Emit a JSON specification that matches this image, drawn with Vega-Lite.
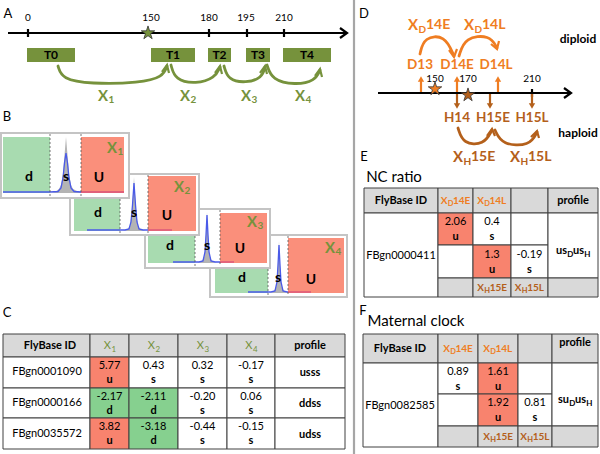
{
"$schema": "https://vega.github.io/schema/vega-lite/v6.json",
"width": 600, "height": 454, "padding": 0, "autosize": {"type": "none"},
"background": "white",
"config": {"view": {"stroke": null}, "font": "Lato", "text": {"font": "Lato"}},
"datasets": {
"frames": [
{"x":210,"x2":347,"y":235,"y2":297,"cat":"blank"},
{"x":145,"x2":270,"y":209,"y2":268,"cat":"blank"},
{"x":70,"x2":199,"y":174,"y2":235,"cat":"blank"},
{"x":1,"x2":129,"y":133,"y2":198,"cat":"blank"}
],
"regions": [
{"x":27,"x2":75,"y":48,"y2":62,"cat":"interval"},
{"x":151,"x2":195,"y":48,"y2":62,"cat":"interval"},
{"x":208,"x2":231,"y":48,"y2":62,"cat":"interval"},
{"x":246,"x2":270,"y":48,"y2":62,"cat":"interval"},
{"x":283,"x2":331,"y":48,"y2":62,"cat":"interval"},
{"x":3,"x2":50,"y":137,"y2":193,"cat":"downRegion"},
{"x":81,"x2":124,"y":137,"y2":193,"cat":"upRegion"},
{"x":74,"x2":120,"y":199,"y2":231,"cat":"downRegion"},
{"x":148,"x2":196,"y":176,"y2":231,"cat":"upRegion"},
{"x":148,"x2":195,"y":236,"y2":263,"cat":"downRegion"},
{"x":220,"x2":267,"y":213,"y2":263,"cat":"upRegion"},
{"x":215,"x2":268,"y":269,"y2":293,"cat":"downRegion"},
{"x":288,"x2":344,"y":238,"y2":293,"cat":"upRegion"}
],
"cells": [
{"x":3,"x2":90,"y":334,"y2":357,"cat":"header"},
{"x":90,"x2":129,"y":334,"y2":357,"cat":"header"},
{"x":129,"x2":178,"y":334,"y2":357,"cat":"header"},
{"x":178,"x2":227,"y":334,"y2":357,"cat":"header"},
{"x":227,"x2":275,"y":334,"y2":357,"cat":"header"},
{"x":275,"x2":345,"y":334,"y2":357,"cat":"header"},
{"x":3,"x2":90,"y":357,"y2":388,"cat":"blank"},
{"x":90,"x2":129,"y":357,"y2":388,"cat":"up"},
{"x":129,"x2":178,"y":357,"y2":388,"cat":"blank"},
{"x":178,"x2":227,"y":357,"y2":388,"cat":"blank"},
{"x":227,"x2":275,"y":357,"y2":388,"cat":"blank"},
{"x":275,"x2":345,"y":357,"y2":388,"cat":"blank"},
{"x":3,"x2":90,"y":388,"y2":418,"cat":"blank"},
{"x":90,"x2":129,"y":388,"y2":418,"cat":"down"},
{"x":129,"x2":178,"y":388,"y2":418,"cat":"down"},
{"x":178,"x2":227,"y":388,"y2":418,"cat":"blank"},
{"x":227,"x2":275,"y":388,"y2":418,"cat":"blank"},
{"x":275,"x2":345,"y":388,"y2":418,"cat":"blank"},
{"x":3,"x2":90,"y":418,"y2":449,"cat":"blank"},
{"x":90,"x2":129,"y":418,"y2":449,"cat":"up"},
{"x":129,"x2":178,"y":418,"y2":449,"cat":"down"},
{"x":178,"x2":227,"y":418,"y2":449,"cat":"blank"},
{"x":227,"x2":275,"y":418,"y2":449,"cat":"blank"},
{"x":275,"x2":345,"y":418,"y2":449,"cat":"blank"},
{"x":364,"x2":438,"y":188,"y2":213,"cat":"header"},
{"x":438,"x2":473,"y":188,"y2":213,"cat":"header"},
{"x":473,"x2":511,"y":188,"y2":213,"cat":"header"},
{"x":511,"x2":548,"y":188,"y2":213,"cat":"header"},
{"x":548,"x2":598,"y":188,"y2":213,"cat":"header"},
{"x":364,"x2":438,"y":213,"y2":297,"cat":"blank"},
{"x":438,"x2":473,"y":213,"y2":245,"cat":"up"},
{"x":438,"x2":473,"y":245,"y2":278,"cat":"blank"},
{"x":438,"x2":473,"y":278,"y2":297,"cat":"header"},
{"x":473,"x2":511,"y":213,"y2":245,"cat":"blank"},
{"x":473,"x2":511,"y":245,"y2":278,"cat":"up"},
{"x":473,"x2":511,"y":278,"y2":297,"cat":"header"},
{"x":511,"x2":548,"y":213,"y2":245,"cat":"blank"},
{"x":511,"x2":548,"y":245,"y2":278,"cat":"blank"},
{"x":511,"x2":548,"y":278,"y2":297,"cat":"header"},
{"x":548,"x2":598,"y":213,"y2":278,"cat":"blank"},
{"x":548,"x2":598,"y":278,"y2":297,"cat":"header"},
{"x":363,"x2":438,"y":334,"y2":363,"cat":"header"},
{"x":438,"x2":478,"y":334,"y2":363,"cat":"header"},
{"x":478,"x2":518,"y":334,"y2":363,"cat":"header"},
{"x":518,"x2":552,"y":334,"y2":363,"cat":"header"},
{"x":552,"x2":598,"y":334,"y2":363,"cat":"header"},
{"x":363,"x2":438,"y":363,"y2":447,"cat":"blank"},
{"x":438,"x2":478,"y":363,"y2":394,"cat":"blank"},
{"x":438,"x2":478,"y":394,"y2":426,"cat":"blank"},
{"x":438,"x2":478,"y":426,"y2":447,"cat":"header"},
{"x":478,"x2":518,"y":363,"y2":394,"cat":"up"},
{"x":478,"x2":518,"y":394,"y2":426,"cat":"up"},
{"x":478,"x2":518,"y":426,"y2":447,"cat":"header"},
{"x":518,"x2":552,"y":363,"y2":394,"cat":"blank"},
{"x":518,"x2":552,"y":394,"y2":426,"cat":"blank"},
{"x":518,"x2":552,"y":426,"y2":447,"cat":"header"},
{"x":552,"x2":598,"y":363,"y2":426,"cat":"blank"},
{"x":552,"x2":598,"y":426,"y2":447,"cat":"header"}
],
"counts": [
{"id":"p1","x":50,"y":193,"base":193,"cat":"count"},{"id":"p1","x":55,"y":192,"base":193,"cat":"count"},{"id":"p1","x":59,"y":189,"base":193,"cat":"count"},{"id":"p1","x":61,"y":185,"base":193,"cat":"count"},{"id":"p1","x":63,"y":174,"base":193,"cat":"count"},{"id":"p1","x":64.5,"y":155,"base":193,"cat":"count"},{"id":"p1","x":66,"y":137,"base":193,"cat":"count"},{"id":"p1","x":67.5,"y":155,"base":193,"cat":"count"},{"id":"p1","x":69,"y":174,"base":193,"cat":"count"},{"id":"p1","x":71,"y":185,"base":193,"cat":"count"},{"id":"p1","x":73,"y":189,"base":193,"cat":"count"},{"id":"p1","x":77,"y":191,"base":193,"cat":"count"},{"id":"p1","x":81,"y":192,"base":193,"cat":"count"},
{"id":"p2","x":122,"y":231,"base":231,"cat":"count"},{"id":"p2","x":127,"y":230,"base":231,"cat":"count"},{"id":"p2","x":130,"y":226,"base":231,"cat":"count"},{"id":"p2","x":132,"y":211,"base":231,"cat":"count"},{"id":"p2","x":134,"y":177,"base":231,"cat":"count"},{"id":"p2","x":136,"y":211,"base":231,"cat":"count"},{"id":"p2","x":138,"y":226,"base":231,"cat":"count"},{"id":"p2","x":141,"y":230,"base":231,"cat":"count"},{"id":"p2","x":146,"y":231,"base":231,"cat":"count"},
{"id":"p3","x":197,"y":263,"base":263,"cat":"count"},{"id":"p3","x":201,"y":262,"base":263,"cat":"count"},{"id":"p3","x":204,"y":258,"base":263,"cat":"count"},{"id":"p3","x":205.5,"y":245,"base":263,"cat":"count"},{"id":"p3","x":207,"y":212,"base":263,"cat":"count"},{"id":"p3","x":208.5,"y":245,"base":263,"cat":"count"},{"id":"p3","x":210,"y":258,"base":263,"cat":"count"},{"id":"p3","x":213,"y":262,"base":263,"cat":"count"},{"id":"p3","x":217,"y":263,"base":263,"cat":"count"},
{"id":"p4","x":269,"y":293,"base":293,"cat":"count"},{"id":"p4","x":273,"y":292,"base":293,"cat":"count"},{"id":"p4","x":276,"y":288,"base":293,"cat":"count"},{"id":"p4","x":277.5,"y":275,"base":293,"cat":"count"},{"id":"p4","x":279,"y":241,"base":293,"cat":"count"},{"id":"p4","x":280.5,"y":275,"base":293,"cat":"count"},{"id":"p4","x":282,"y":288,"base":293,"cat":"count"},{"id":"p4","x":285,"y":292,"base":293,"cat":"count"},{"id":"p4","x":289,"y":293,"base":293,"cat":"count"}
],
"dens": [
{"id":"b1","ord":1,"x":3,"y":192,"cat":"density"},{"id":"b1","ord":2,"x":50,"y":192,"cat":"density"},{"id":"b1","ord":3,"x":58,"y":191.5,"cat":"density"},{"id":"b1","ord":4,"x":61,"y":188,"cat":"density"},{"id":"b1","ord":5,"x":63,"y":178,"cat":"density"},{"id":"b1","ord":6,"x":64.5,"y":163,"cat":"density"},{"id":"b1","ord":7,"x":66,"y":153,"cat":"density"},{"id":"b1","ord":8,"x":67.5,"y":163,"cat":"density"},{"id":"b1","ord":9,"x":69,"y":178,"cat":"density"},{"id":"b1","ord":10,"x":71,"y":188,"cat":"density"},{"id":"b1","ord":11,"x":74,"y":191.5,"cat":"density"},{"id":"b1","ord":12,"x":81,"y":192,"cat":"density"},
{"id":"r1","ord":1,"x":81,"y":192,"cat":"upTail"},{"id":"r1","ord":2,"x":124,"y":192,"cat":"upTail"},
{"id":"b2","ord":1,"x":87,"y":230,"cat":"density"},{"id":"b2","ord":2,"x":125,"y":230,"cat":"density"},{"id":"b2","ord":3,"x":129,"y":229,"cat":"density"},{"id":"b2","ord":4,"x":131,"y":222,"cat":"density"},{"id":"b2","ord":5,"x":132.5,"y":205,"cat":"density"},{"id":"b2","ord":6,"x":134,"y":183,"cat":"density"},{"id":"b2","ord":7,"x":135.5,"y":205,"cat":"density"},{"id":"b2","ord":8,"x":137,"y":222,"cat":"density"},{"id":"b2","ord":9,"x":139,"y":229,"cat":"density"},{"id":"b2","ord":10,"x":143,"y":230,"cat":"density"},{"id":"b2","ord":11,"x":148,"y":230,"cat":"density"},
{"id":"r2","ord":1,"x":148,"y":230,"cat":"upTail"},{"id":"r2","ord":2,"x":172,"y":230,"cat":"upTail"},
{"id":"b3","ord":1,"x":173,"y":262,"cat":"density"},{"id":"b3","ord":2,"x":199,"y":262,"cat":"density"},{"id":"b3","ord":3,"x":203,"y":261,"cat":"density"},{"id":"b3","ord":4,"x":205,"y":252,"cat":"density"},{"id":"b3","ord":5,"x":206,"y":235,"cat":"density"},{"id":"b3","ord":6,"x":207,"y":215,"cat":"density"},{"id":"b3","ord":7,"x":208,"y":235,"cat":"density"},{"id":"b3","ord":8,"x":209,"y":252,"cat":"density"},{"id":"b3","ord":9,"x":211,"y":261,"cat":"density"},{"id":"b3","ord":10,"x":215,"y":262,"cat":"density"},{"id":"b3","ord":11,"x":220,"y":262,"cat":"density"},
{"id":"r3","ord":1,"x":220,"y":262,"cat":"upTail"},{"id":"r3","ord":2,"x":234,"y":262,"cat":"upTail"},
{"id":"b4","ord":1,"x":248,"y":292,"cat":"density"},{"id":"b4","ord":2,"x":271,"y":292,"cat":"density"},{"id":"b4","ord":3,"x":275,"y":291,"cat":"density"},{"id":"b4","ord":4,"x":277,"y":282,"cat":"density"},{"id":"b4","ord":5,"x":278,"y":265,"cat":"density"},{"id":"b4","ord":6,"x":279,"y":245,"cat":"density"},{"id":"b4","ord":7,"x":280,"y":265,"cat":"density"},{"id":"b4","ord":8,"x":281,"y":282,"cat":"density"},{"id":"b4","ord":9,"x":283,"y":291,"cat":"density"},{"id":"b4","ord":10,"x":287,"y":292,"cat":"density"},{"id":"b4","ord":11,"x":288,"y":292,"cat":"density"},
{"id":"r4","ord":1,"x":288,"y":292,"cat":"upTail"},{"id":"r4","ord":2,"x":311,"y":292,"cat":"upTail"}
],
"dashes": [
{"id":"a1","ord":1,"x":50,"y":134,"cat":"dash"},{"id":"a1","ord":2,"x":50,"y":196,"cat":"dash"},
{"id":"a2","ord":1,"x":81,"y":134,"cat":"dash"},{"id":"a2","ord":2,"x":81,"y":196,"cat":"dash"},
{"id":"a3","ord":1,"x":120,"y":199,"cat":"dash"},{"id":"a3","ord":2,"x":120,"y":233,"cat":"dash"},
{"id":"a4","ord":1,"x":148,"y":175,"cat":"dash"},{"id":"a4","ord":2,"x":148,"y":233,"cat":"dash"},
{"id":"a5","ord":1,"x":195,"y":236,"cat":"dash"},{"id":"a5","ord":2,"x":195,"y":266,"cat":"dash"},
{"id":"a6","ord":1,"x":220,"y":210,"cat":"dash"},{"id":"a6","ord":2,"x":220,"y":266,"cat":"dash"},
{"id":"a7","ord":1,"x":268,"y":269,"cat":"dash"},{"id":"a7","ord":2,"x":268,"y":295,"cat":"dash"},
{"id":"a8","ord":1,"x":288,"y":236,"cat":"dash"},{"id":"a8","ord":2,"x":288,"y":295,"cat":"dash"}
],
"arcs": [
{"id":"x1","ord":1,"x":58,"y":66,"cat":"interval"},{"id":"x1","ord":2,"x":62,"y":79,"cat":"interval"},{"id":"x1","ord":3,"x":90,"y":84,"cat":"interval"},{"id":"x1","ord":4,"x":140,"y":83,"cat":"interval"},{"id":"x1","ord":5,"x":163,"y":77,"cat":"interval"},{"id":"x1","ord":6,"x":167,"y":66,"cat":"interval"},
{"id":"x2","ord":1,"x":171,"y":65,"cat":"interval"},{"id":"x2","ord":2,"x":175,"y":80,"cat":"interval"},{"id":"x2","ord":3,"x":196,"y":84,"cat":"interval"},{"id":"x2","ord":4,"x":215,"y":78,"cat":"interval"},{"id":"x2","ord":5,"x":220,"y":67,"cat":"interval"},
{"id":"x3","ord":1,"x":224,"y":66,"cat":"interval"},{"id":"x3","ord":2,"x":228,"y":80,"cat":"interval"},{"id":"x3","ord":3,"x":246,"y":83,"cat":"interval"},{"id":"x3","ord":4,"x":262,"y":78,"cat":"interval"},{"id":"x3","ord":5,"x":265,"y":67,"cat":"interval"},
{"id":"x4","ord":1,"x":267,"y":65,"cat":"interval"},{"id":"x4","ord":2,"x":272,"y":80,"cat":"interval"},{"id":"x4","ord":3,"x":295,"y":85,"cat":"interval"},{"id":"x4","ord":4,"x":315,"y":81,"cat":"interval"},{"id":"x4","ord":5,"x":320,"y":70,"cat":"interval"},
{"id":"o1","ord":1,"x":420,"y":54,"cat":"diploid"},{"id":"o1","ord":2,"x":424,"y":37,"cat":"diploid"},{"id":"o1","ord":3,"x":445,"y":35,"cat":"diploid"},{"id":"o1","ord":4,"x":454,"y":56,"cat":"diploid"},
{"id":"o2","ord":1,"x":459,"y":56,"cat":"diploid"},{"id":"o2","ord":2,"x":465,"y":37,"cat":"diploid"},{"id":"o2","ord":3,"x":490,"y":35,"cat":"diploid"},{"id":"o2","ord":4,"x":497,"y":48,"cat":"diploid"},
{"id":"h1","ord":1,"x":458,"y":128,"cat":"haploid"},{"id":"h1","ord":2,"x":463,"y":144,"cat":"haploid"},{"id":"h1","ord":3,"x":484,"y":145,"cat":"haploid"},{"id":"h1","ord":4,"x":492,"y":130,"cat":"haploid"},
{"id":"h2","ord":1,"x":495,"y":130,"cat":"haploid"},{"id":"h2","ord":2,"x":502,"y":145,"cat":"haploid"},{"id":"h2","ord":3,"x":530,"y":146,"cat":"haploid"},{"id":"h2","ord":4,"x":537,"y":132,"cat":"haploid"}
],
"segs": [
{"id":"div","ord":1,"x":354,"y":0,"cat":"divider"},{"id":"div","ord":2,"x":354,"y":454,"cat":"divider"},
{"id":"aAx","ord":1,"x":8,"y":33,"cat":"plain"},{"id":"aAx","ord":2,"x":346,"y":33,"cat":"plain"},
{"id":"aHd","ord":1,"x":340,"y":28,"cat":"plain"},{"id":"aHd","ord":2,"x":347,"y":33,"cat":"plain"},{"id":"aHd","ord":3,"x":340,"y":38,"cat":"plain"},
{"id":"t0","ord":1,"x":28,"y":29,"cat":"plain"},{"id":"t0","ord":2,"x":28,"y":37,"cat":"plain"},
{"id":"t180","ord":1,"x":209,"y":29,"cat":"plain"},{"id":"t180","ord":2,"x":209,"y":37,"cat":"plain"},
{"id":"t195","ord":1,"x":247,"y":29,"cat":"plain"},{"id":"t195","ord":2,"x":247,"y":37,"cat":"plain"},
{"id":"t210","ord":1,"x":284,"y":29,"cat":"plain"},{"id":"t210","ord":2,"x":284,"y":37,"cat":"plain"},
{"id":"hx1","ord":1,"x":162,"y":72,"cat":"interval"},{"id":"hx1","ord":2,"x":167,"y":65,"cat":"interval"},{"id":"hx1","ord":3,"x":169,"y":73,"cat":"interval"},
{"id":"hx2","ord":1,"x":215,"y":73,"cat":"interval"},{"id":"hx2","ord":2,"x":220,"y":66,"cat":"interval"},{"id":"hx2","ord":3,"x":222,"y":74,"cat":"interval"},
{"id":"hx3","ord":1,"x":260,"y":73,"cat":"interval"},{"id":"hx3","ord":2,"x":265,"y":66,"cat":"interval"},{"id":"hx3","ord":3,"x":267,"y":74,"cat":"interval"},
{"id":"hx4","ord":1,"x":315,"y":76,"cat":"interval"},{"id":"hx4","ord":2,"x":320,"y":69,"cat":"interval"},{"id":"hx4","ord":3,"x":322,"y":77,"cat":"interval"},
{"id":"dAx","ord":1,"x":378,"y":93,"cat":"plain"},{"id":"dAx","ord":2,"x":570,"y":93,"cat":"plain"},
{"id":"dHd","ord":1,"x":564,"y":88,"cat":"plain"},{"id":"dHd","ord":2,"x":571,"y":93,"cat":"plain"},{"id":"dHd","ord":3,"x":564,"y":98,"cat":"plain"},
{"id":"dt","ord":1,"x":532,"y":89,"cat":"plain"},{"id":"dt","ord":2,"x":532,"y":97,"cat":"plain"},
{"id":"ho1","ord":1,"x":449,"y":50,"cat":"diploid"},{"id":"ho1","ord":2,"x":454,"y":57,"cat":"diploid"},{"id":"ho1","ord":3,"x":457,"y":49,"cat":"diploid"},
{"id":"ho2","ord":1,"x":491,"y":44,"cat":"diploid"},{"id":"ho2","ord":2,"x":497,"y":49,"cat":"diploid"},{"id":"ho2","ord":3,"x":499,"y":41,"cat":"diploid"},
{"id":"hh1","ord":1,"x":487,"y":136,"cat":"haploid"},{"id":"hh1","ord":2,"x":492,"y":129,"cat":"haploid"},{"id":"hh1","ord":3,"x":495,"y":136,"cat":"haploid"},
{"id":"hh2","ord":1,"x":531,"y":137,"cat":"haploid"},{"id":"hh2","ord":2,"x":537,"y":131,"cat":"haploid"},{"id":"hh2","ord":3,"x":539,"y":138,"cat":"haploid"},
{"id":"u1","ord":1,"x":421,"y":92,"cat":"diploid"},{"id":"u1","ord":2,"x":421,"y":81,"cat":"diploid"},
{"id":"u2","ord":1,"x":457,"y":92,"cat":"diploid"},{"id":"u2","ord":2,"x":457,"y":81,"cat":"diploid"},
{"id":"u3","ord":1,"x":498,"y":92,"cat":"diploid"},{"id":"u3","ord":2,"x":498,"y":81,"cat":"diploid"},
{"id":"d1","ord":1,"x":457,"y":94,"cat":"haploid"},{"id":"d1","ord":2,"x":457,"y":104,"cat":"haploid"},
{"id":"d2","ord":1,"x":490,"y":94,"cat":"haploid"},{"id":"d2","ord":2,"x":490,"y":104,"cat":"haploid"},
{"id":"d3","ord":1,"x":532,"y":94,"cat":"haploid"},{"id":"d3","ord":2,"x":532,"y":104,"cat":"haploid"}
],
"heads": [
{"x":421,"y":79,"dir":"up","cat":"diploid"},{"x":457,"y":79,"dir":"up","cat":"diploid"},{"x":498,"y":79,"dir":"up","cat":"diploid"},
{"x":457,"y":106,"dir":"down","cat":"haploid"},{"x":490,"y":106,"dir":"down","cat":"haploid"},{"x":532,"y":106,"dir":"down","cat":"haploid"}
],
"stars": [
{"x":148,"y":33,"cat":"interval"},{"x":435,"y":89,"cat":"diploid"},{"x":468,"y":95,"cat":"haploid"}
],
"titles": [
{"x":8,"y":14,"t":"A","cat":"plain"},{"x":7,"y":117,"t":"B","cat":"plain"},{"x":7,"y":313,"t":"C","cat":"plain"},
{"x":364,"y":14,"t":"D","cat":"plain"},{"x":364,"y":157,"t":"E","cat":"plain"},{"x":363,"y":311,"t":"F","cat":"plain"}
],
"captions": [
{"x":394,"y":177,"t":"NC ratio","cat":"plain"},{"x":416,"y":321,"t":"Maternal clock","cat":"plain"}
],
"ticks": [
{"x":28,"y":18,"t":"0","cat":"plain"},{"x":151,"y":18,"t":"150","cat":"plain"},{"x":209,"y":18,"t":"180","cat":"plain"},{"x":246,"y":18,"t":"195","cat":"plain"},{"x":284,"y":18,"t":"210","cat":"plain"},
{"x":435,"y":79,"t":"150","cat":"plain"},{"x":468,"y":79,"t":"170","cat":"plain"},{"x":532,"y":79,"t":"210","cat":"plain"}
],
"boxLabels": [
{"x":51,"y":55,"t":"T0","cat":"plain"},{"x":173,"y":55,"t":"T1","cat":"plain"},{"x":219.5,"y":55,"t":"T2","cat":"plain"},{"x":258,"y":55,"t":"T3","cat":"plain"},{"x":307,"y":55,"t":"T4","cat":"plain"},
{"x":578,"y":39,"t":"diploid","cat":"plain"},{"x":578,"y":133,"t":"haploid","cat":"plain"}
],
"classes": [
{"x":29,"y":177,"t":"d","cat":"plain"},{"x":66,"y":177,"t":"s","cat":"plain"},{"x":99,"y":178,"t":"U","cat":"plain"},
{"x":98,"y":213,"t":"d","cat":"plain"},{"x":134,"y":213,"t":"s","cat":"plain"},{"x":167,"y":216,"t":"U","cat":"plain"},
{"x":170,"y":246,"t":"d","cat":"plain"},{"x":207,"y":246,"t":"s","cat":"plain"},{"x":240,"y":249,"t":"U","cat":"plain"},
{"x":242,"y":278,"t":"d","cat":"plain"},{"x":278,"y":278,"t":"s","cat":"plain"},{"x":311,"y":280,"t":"U","cat":"plain"}
],
"stages": [
{"x":420,"y":65,"t":"D13","cat":"diploid"},{"x":457,"y":65,"t":"D14E","cat":"diploid"},{"x":496,"y":65,"t":"D14L","cat":"diploid"},
{"x":457,"y":118,"t":"H14","cat":"haploid"},{"x":493,"y":118,"t":"H15E","cat":"haploid"},{"x":532,"y":118,"t":"H15L","cat":"haploid"}
],
"xMain": [
{"x":108,"y":96,"t":"X","cat":"interval"},{"x":190,"y":96,"t":"X","cat":"interval"},{"x":251,"y":96,"t":"X","cat":"interval"},{"x":305,"y":96,"t":"X","cat":"interval"},
{"x":117,"y":148,"t":"X","cat":"interval"},{"x":184,"y":187,"t":"X","cat":"interval"},{"x":257,"y":222,"t":"X","cat":"interval"},{"x":335,"y":248,"t":"X","cat":"interval"},
{"x":418,"y":25,"t":"X","cat":"diploid"},{"x":474,"y":25,"t":"X","cat":"diploid"},
{"x":463,"y":157,"t":"X","cat":"haploid"},{"x":520,"y":157,"t":"X","cat":"haploid"}
],
"xSub": [
{"x":108.5,"y":100,"t":"1","cat":"interval"},{"x":190.5,"y":100,"t":"2","cat":"interval"},{"x":251.5,"y":100,"t":"3","cat":"interval"},{"x":305.5,"y":100,"t":"4","cat":"interval"},
{"x":117.5,"y":152,"t":"1","cat":"interval"},{"x":184.5,"y":191,"t":"2","cat":"interval"},{"x":257.5,"y":226,"t":"3","cat":"interval"},{"x":335.5,"y":252,"t":"4","cat":"interval"},
{"x":418.5,"y":30,"t":"D","cat":"diploid"},{"x":474.5,"y":30,"t":"D","cat":"diploid"},
{"x":463.5,"y":162,"t":"H","cat":"haploid"},{"x":520.5,"y":162,"t":"H","cat":"haploid"}
],
"xRest": [
{"x":426,"y":25,"t":"14E","cat":"diploid"},{"x":482,"y":25,"t":"14L","cat":"diploid"},
{"x":471,"y":157,"t":"15E","cat":"haploid"},{"x":528,"y":157,"t":"15L","cat":"haploid"}
],
"tNum": [
{"x":47,"y":372,"t":"FBgn0001090","cat":"plain"},{"x":47,"y":403,"t":"FBgn0000166","cat":"plain"},{"x":47,"y":434,"t":"FBgn0035572","cat":"plain"},
{"x":109.5,"y":366,"t":"5.77","cat":"plain"},{"x":153.5,"y":366,"t":"0.43","cat":"plain"},{"x":202.5,"y":366,"t":"0.32","cat":"plain"},{"x":251,"y":366,"t":"-0.17","cat":"plain"},
{"x":109.5,"y":397,"t":"-2.17","cat":"plain"},{"x":153.5,"y":397,"t":"-2.11","cat":"plain"},{"x":202.5,"y":397,"t":"-0.20","cat":"plain"},{"x":251,"y":397,"t":"0.06","cat":"plain"},
{"x":109.5,"y":427,"t":"3.82","cat":"plain"},{"x":153.5,"y":427,"t":"-3.18","cat":"plain"},{"x":202.5,"y":427,"t":"-0.44","cat":"plain"},{"x":251,"y":427,"t":"-0.15","cat":"plain"},
{"x":401,"y":256,"t":"FBgn0000411","cat":"plain"},
{"x":455.5,"y":222,"t":"2.06","cat":"plain"},{"x":492,"y":222,"t":"0.4","cat":"plain"},{"x":492,"y":255,"t":"1.3","cat":"plain"},{"x":529.5,"y":255,"t":"-0.19","cat":"plain"},
{"x":400,"y":406,"t":"FBgn0082585","cat":"plain"},
{"x":458,"y":372,"t":"0.89","cat":"plain"},{"x":498,"y":372,"t":"1.61","cat":"plain"},{"x":498,"y":403,"t":"1.92","cat":"plain"},{"x":535,"y":403,"t":"0.81","cat":"plain"}
],
"tBold": [
{"x":50,"y":346,"t":"FlyBase ID","cat":"plain"},{"x":310,"y":346,"t":"profile","cat":"plain"},
{"x":310,"y":373,"t":"usss","cat":"plain"},{"x":310,"y":404,"t":"ddss","cat":"plain"},{"x":310,"y":435,"t":"udss","cat":"plain"},
{"x":109.5,"y":380,"t":"u","cat":"plain"},{"x":153.5,"y":380,"t":"s","cat":"plain"},{"x":202.5,"y":380,"t":"s","cat":"plain"},{"x":251,"y":380,"t":"s","cat":"plain"},
{"x":109.5,"y":411,"t":"d","cat":"plain"},{"x":153.5,"y":411,"t":"d","cat":"plain"},{"x":202.5,"y":411,"t":"s","cat":"plain"},{"x":251,"y":411,"t":"s","cat":"plain"},
{"x":109.5,"y":441,"t":"u","cat":"plain"},{"x":153.5,"y":441,"t":"d","cat":"plain"},{"x":202.5,"y":441,"t":"s","cat":"plain"},{"x":251,"y":441,"t":"s","cat":"plain"},
{"x":401,"y":201,"t":"FlyBase ID","cat":"plain"},{"x":573,"y":201,"t":"profile","cat":"plain"},
{"x":455.5,"y":237,"t":"u","cat":"plain"},{"x":492,"y":237,"t":"s","cat":"plain"},{"x":492,"y":270,"t":"u","cat":"plain"},{"x":529.5,"y":270,"t":"s","cat":"plain"},
{"x":400,"y":349,"t":"FlyBase ID","cat":"plain"},{"x":575,"y":343,"t":"profile","cat":"plain"},
{"x":458,"y":387,"t":"s","cat":"plain"},{"x":498,"y":387,"t":"u","cat":"plain"},{"x":498,"y":418,"t":"u","cat":"plain"},{"x":535,"y":418,"t":"s","cat":"plain"}
],
"cHeadX": [
{"x":111,"y":346,"t":"X","cat":"interval"},{"x":155,"y":346,"t":"X","cat":"interval"},{"x":204,"y":346,"t":"X","cat":"interval"},{"x":252.5,"y":346,"t":"X","cat":"interval"}
],
"cHeadSub": [
{"x":111.5,"y":349.5,"t":"1","cat":"interval"},{"x":155.5,"y":349.5,"t":"2","cat":"interval"},{"x":204.5,"y":349.5,"t":"3","cat":"interval"},{"x":253,"y":349.5,"t":"4","cat":"interval"}
],
"tX": [
{"x":447.4,"y":201,"t":"X","cat":"diploid"},{"x":483.9,"y":201,"t":"X","cat":"diploid"},
{"x":483.9,"y":288,"t":"X","cat":"haploid"},{"x":521.4,"y":288,"t":"X","cat":"haploid"},
{"x":449.9,"y":349,"t":"X","cat":"diploid"},{"x":489.9,"y":349,"t":"X","cat":"diploid"},
{"x":489.9,"y":437,"t":"X","cat":"haploid"},{"x":526.9,"y":437,"t":"X","cat":"haploid"}
],
"tSub": [
{"x":447.7,"y":204,"t":"D","cat":"diploid"},{"x":484.2,"y":204,"t":"D","cat":"diploid"},
{"x":484.2,"y":291,"t":"H","cat":"haploid"},{"x":521.7,"y":291,"t":"H","cat":"haploid"},
{"x":450.2,"y":352,"t":"D","cat":"diploid"},{"x":490.2,"y":352,"t":"D","cat":"diploid"},
{"x":490.2,"y":440,"t":"H","cat":"haploid"},{"x":527.2,"y":440,"t":"H","cat":"haploid"}
],
"tRest": [
{"x":453,"y":201,"t":"14E","cat":"diploid"},{"x":489.5,"y":201,"t":"14L","cat":"diploid"},
{"x":489.7,"y":288,"t":"15E","cat":"haploid"},{"x":527.2,"y":288,"t":"15L","cat":"haploid"},
{"x":455.5,"y":349,"t":"14E","cat":"diploid"},{"x":495.5,"y":349,"t":"14L","cat":"diploid"},
{"x":495.7,"y":437,"t":"15E","cat":"haploid"},{"x":532.7,"y":437,"t":"15L","cat":"haploid"}
],
"pPart": [
{"x":556,"y":251,"t":"us","cat":"plain"},{"x":573,"y":251,"t":"us","cat":"plain"},
{"x":558,"y":400,"t":"su","cat":"plain"},{"x":575,"y":400,"t":"us","cat":"plain"}
],
"pSub": [
{"x":567.2,"y":255,"t":"D","cat":"plain"},{"x":584.2,"y":255,"t":"H","cat":"plain"},
{"x":569.2,"y":404,"t":"D","cat":"plain"},{"x":586.2,"y":404,"t":"H","cat":"plain"}
]
},
"encoding": {
"x": {"field": "x", "type": "quantitative", "scale": {"domain": [0, 600], "nice": false, "zero": false}, "axis": null},
"y": {"field": "y", "type": "quantitative", "scale": {"domain": [0, 454], "nice": false, "zero": false, "reverse": true}, "axis": null},
"color": {"field": "cat", "type": "nominal", "legend": null, "scale": {
"domain": ["plain","interval","diploid","haploid","up","down","header","blank","upRegion","downRegion","density","count","upTail","dash","divider"],
"range": ["#000000","#76923c","#ef7d22","#b4601b","#f8836e","#86d08f","#d9d9d9","#ffffff","#fa8f7b","#a8dbb0","#4a5ae8","#b4b4b4","#d9507a","#555555","#a6a6a6"]}}
},
"layer": [
{"data": {"name": "frames"}, "mark": {"type": "rect", "stroke": "#c4c4c4", "strokeWidth": 2}, "encoding": {"x2": {"field": "x2"}, "y2": {"field": "y2"}}},
{"data": {"name": "regions"}, "mark": {"type": "rect"}, "encoding": {"x2": {"field": "x2"}, "y2": {"field": "y2"}}},
{"data": {"name": "cells"}, "mark": {"type": "rect", "stroke": "#404040", "strokeWidth": 1}, "encoding": {"x2": {"field": "x2"}, "y2": {"field": "y2"}}},
{"data": {"name": "counts"}, "mark": {"type": "area"}, "encoding": {"y2": {"field": "base"}, "detail": {"field": "id"}}},
{"data": {"name": "dens"}, "mark": {"type": "line", "strokeWidth": 1.3}, "encoding": {"detail": {"field": "id"}, "order": {"field": "ord"}}},
{"data": {"name": "dashes"}, "mark": {"type": "line", "strokeWidth": 0.8, "strokeDash": [2, 2]}, "encoding": {"detail": {"field": "id"}, "order": {"field": "ord"}}},
{"data": {"name": "arcs"}, "mark": {"type": "line", "strokeWidth": 2.8, "interpolate": "basis", "strokeCap": "round"}, "encoding": {"detail": {"field": "id"}, "order": {"field": "ord"}}},
{"data": {"name": "segs"}, "mark": {"type": "line", "strokeWidth": 2.2}, "encoding": {"detail": {"field": "id"}, "order": {"field": "ord"}}},
{"data": {"name": "heads"}, "mark": {"type": "point", "filled": true, "size": 40, "opacity": 1}, "encoding": {"shape": {"field": "dir", "type": "nominal", "legend": null, "scale": {"domain": ["up", "down"], "range": ["triangle-up", "triangle-down"]}}}},
{"data": {"name": "stars"}, "mark": {"type": "point", "filled": true, "size": 200, "opacity": 1, "stroke": "#333333", "strokeWidth": 0.8, "shape": "M0,-1L0.2245,-0.309L0.9511,-0.309L0.3633,0.118L0.5878,0.809L0,0.382L-0.5878,0.809L-0.3633,0.118L-0.9511,-0.309L-0.2245,-0.309Z"}},
{"data": {"name": "titles"}, "mark": {"type": "text", "fontSize": 13, "baseline": "middle"}, "encoding": {"text": {"field": "t"}}},
{"data": {"name": "captions"}, "mark": {"type": "text", "fontSize": 15, "baseline": "middle"}, "encoding": {"text": {"field": "t"}}},
{"data": {"name": "ticks"}, "mark": {"type": "text", "fontSize": 10, "baseline": "middle"}, "encoding": {"text": {"field": "t"}}},
{"data": {"name": "boxLabels"}, "mark": {"type": "text", "fontSize": 12, "fontWeight": "bold", "baseline": "middle"}, "encoding": {"text": {"field": "t"}}},
{"data": {"name": "classes"}, "mark": {"type": "text", "fontSize": 14, "fontWeight": "bold", "baseline": "middle"}, "encoding": {"text": {"field": "t"}}},
{"data": {"name": "stages"}, "mark": {"type": "text", "fontSize": 13.5, "fontWeight": "bold", "baseline": "middle"}, "encoding": {"text": {"field": "t"}}},
{"data": {"name": "xMain"}, "mark": {"type": "text", "fontSize": 15, "fontWeight": "bold", "baseline": "middle", "align": "right"}, "encoding": {"text": {"field": "t"}}},
{"data": {"name": "xSub"}, "mark": {"type": "text", "fontSize": 10, "fontWeight": "bold", "baseline": "middle", "align": "left"}, "encoding": {"text": {"field": "t"}}},
{"data": {"name": "xRest"}, "mark": {"type": "text", "fontSize": 14, "fontWeight": "bold", "baseline": "middle", "align": "left"}, "encoding": {"text": {"field": "t"}}},
{"data": {"name": "tNum"}, "mark": {"type": "text", "fontSize": 11, "baseline": "middle"}, "encoding": {"text": {"field": "t"}}},
{"data": {"name": "tBold"}, "mark": {"type": "text", "fontSize": 11, "fontWeight": "bold", "baseline": "middle"}, "encoding": {"text": {"field": "t"}}},
{"data": {"name": "cHeadX"}, "mark": {"type": "text", "fontSize": 11, "baseline": "middle", "align": "right"}, "encoding": {"text": {"field": "t"}}},
{"data": {"name": "cHeadSub"}, "mark": {"type": "text", "fontSize": 8, "baseline": "middle", "align": "left"}, "encoding": {"text": {"field": "t"}}},
{"data": {"name": "tX"}, "mark": {"type": "text", "fontSize": 10, "fontWeight": "bold", "baseline": "middle", "align": "right"}, "encoding": {"text": {"field": "t"}}},
{"data": {"name": "tSub"}, "mark": {"type": "text", "fontSize": 7.5, "fontWeight": "bold", "baseline": "middle", "align": "left"}, "encoding": {"text": {"field": "t"}}},
{"data": {"name": "tRest"}, "mark": {"type": "text", "fontSize": 10, "fontWeight": "bold", "baseline": "middle", "align": "left"}, "encoding": {"text": {"field": "t"}}},
{"data": {"name": "pPart"}, "mark": {"type": "text", "fontSize": 11, "fontWeight": "bold", "baseline": "middle", "align": "left"}, "encoding": {"text": {"field": "t"}}},
{"data": {"name": "pSub"}, "mark": {"type": "text", "fontSize": 8, "fontWeight": "bold", "baseline": "middle", "align": "left"}, "encoding": {"text": {"field": "t"}}}
]
}
